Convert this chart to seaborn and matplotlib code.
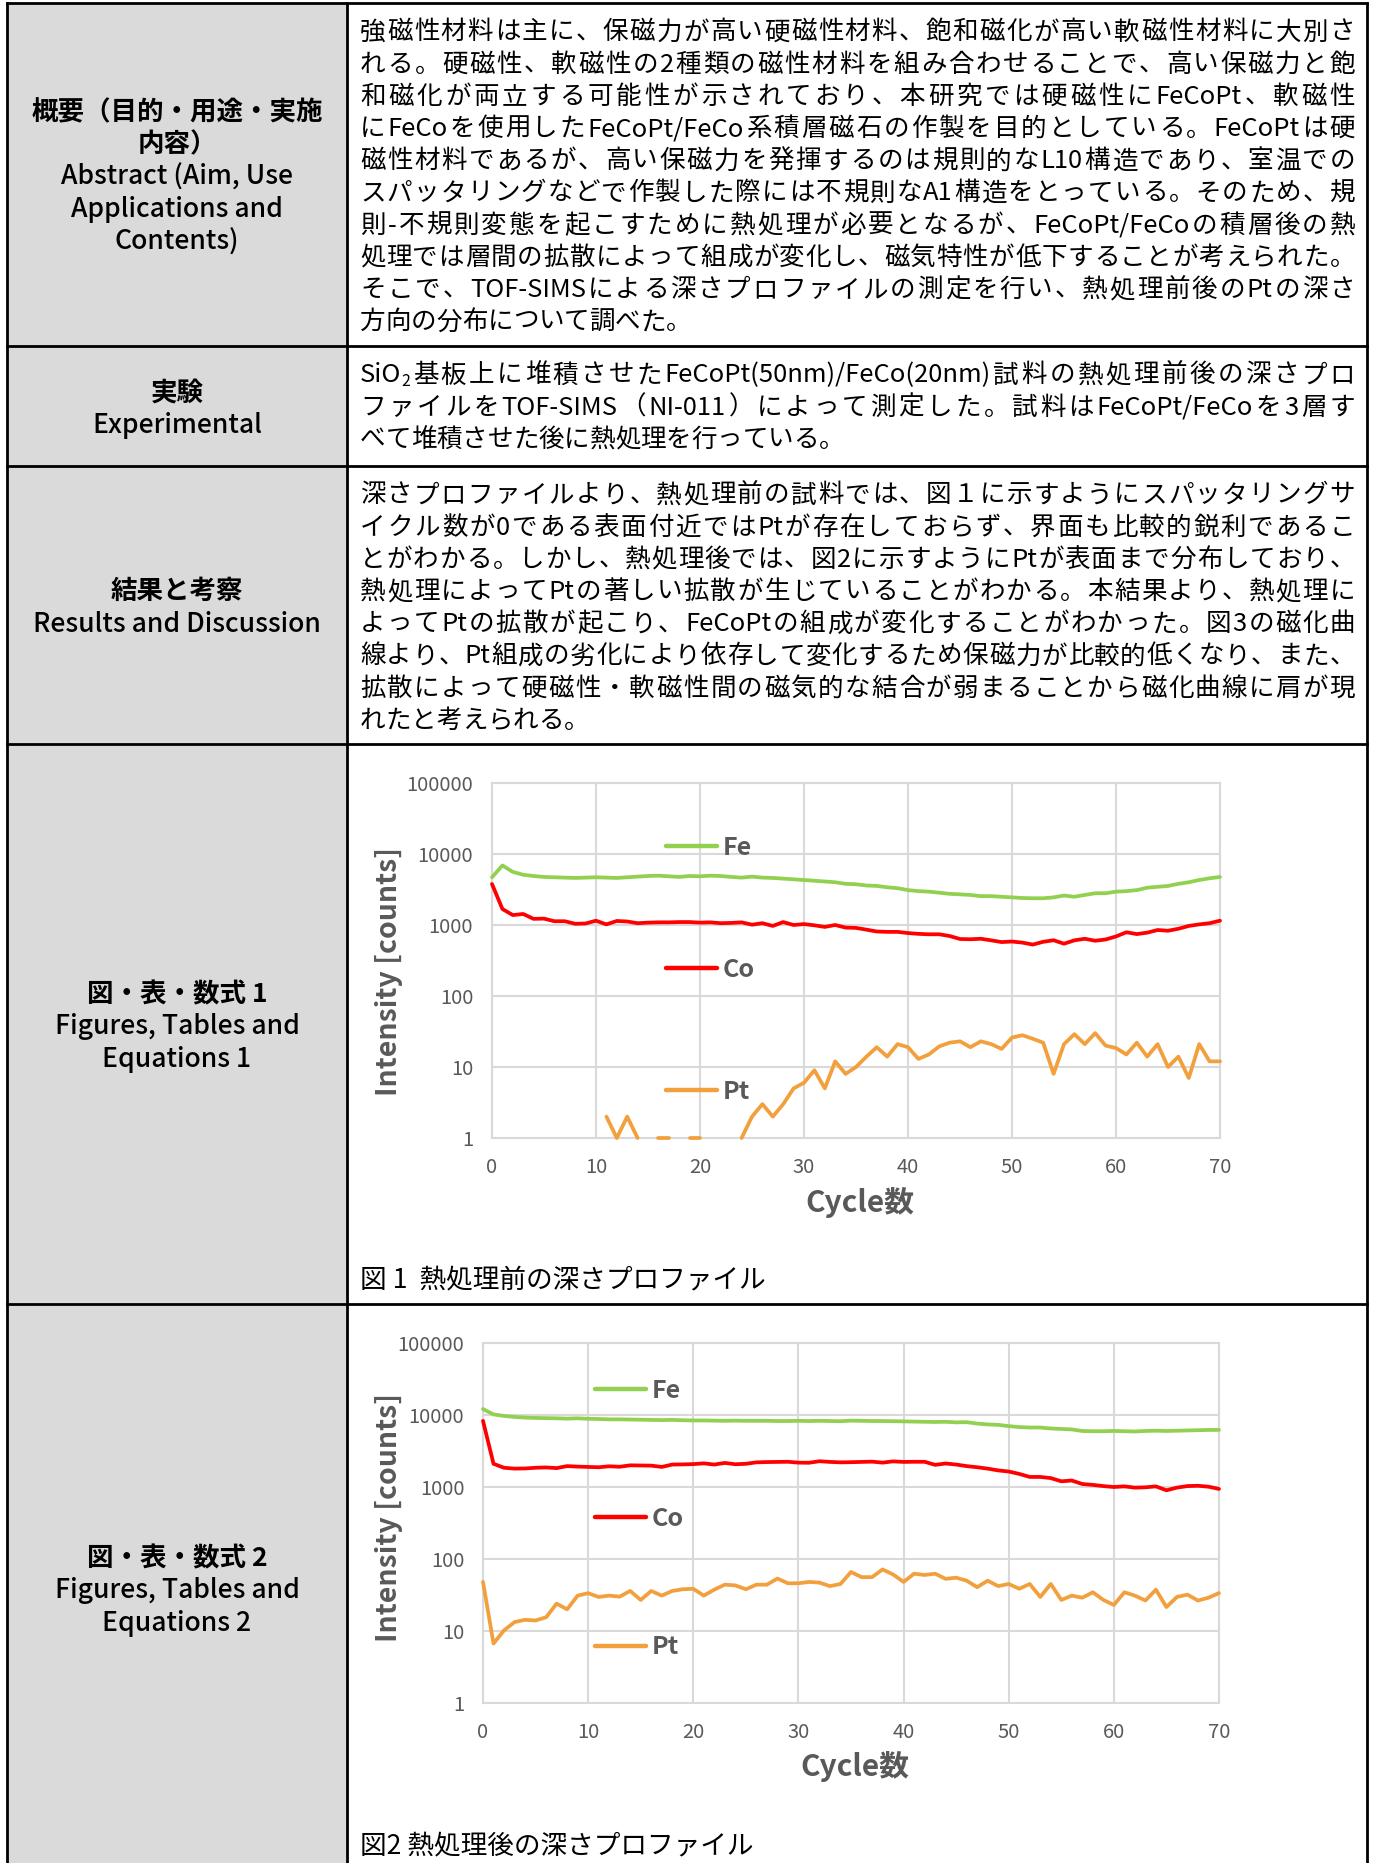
import re
import numpy as np
import pandas as pd
import matplotlib
matplotlib.use("Agg")
import matplotlib.pyplot as plt
import seaborn as sns
from matplotlib.font_manager import FontProperties
from matplotlib.lines import Line2D
from matplotlib.patches import Rectangle

# ---------------- data ----------------
cycles = list(range(71))

fe_before = [4700, 6900, 5600, 5100, 4900, 4750, 4700, 4650, 4600, 4650,
             4700, 4650, 4600, 4700, 4800, 4900, 4950, 4850, 4750, 4900,
             4850, 4950, 4900, 4750, 4650, 4800, 4650, 4600, 4500, 4400,
             4300, 4200, 4100, 4000, 3800, 3750, 3600, 3550, 3400, 3300,
             3100, 3000, 2950, 2850, 2750, 2700, 2650, 2550, 2550, 2500,
             2450, 2400, 2380, 2380, 2450, 2600, 2500, 2650, 2800, 2800,
             2950, 3000, 3100, 3350, 3450, 3550, 3800, 4000, 4300, 4550, 4750]
co_before = [3780, 1680, 1380, 1430, 1220, 1230, 1130, 1130, 1040, 1050,
             1150, 1020, 1140, 1120, 1060, 1080, 1090, 1090, 1100, 1100,
             1080, 1090, 1060, 1070, 1090, 1010, 1060, 970, 1100, 1000,
             1030, 990, 940, 1000, 920, 910, 860, 810, 800, 800,
             770, 750, 740, 740, 700, 635, 630, 640, 608, 575,
             585, 565, 530, 580, 610, 545, 608, 640, 600, 625,
             690, 790, 745, 780, 850, 830, 885, 970, 1020, 1060, 1150]
pt_before = [np.nan] * 11 + [2, 1, 2, 1, np.nan, 1, 1, np.nan, 1, 1,
             np.nan, np.nan, np.nan, 1, 2, 3, 2, 3, 5, 6,
             9, 5, 12, 8, 10, 14, 19, 14, 21, 19,
             13, 15, 19.5, 22, 23, 19, 23, 21, 18, 26,
             28, 25, 22, 8, 21, 29, 21, 30, 20, 18.5,
             15, 22, 14, 21, 10, 14, 7, 21, 12, 12]

fe_after = [12100, 10200, 9700, 9400, 9200, 9100, 9050, 9000, 8900, 9000,
            8850, 8800, 8700, 8700, 8650, 8600, 8550, 8500, 8550, 8450,
            8400, 8400, 8350, 8300, 8350, 8300, 8300, 8300, 8250, 8250,
            8300, 8250, 8300, 8250, 8200, 8350, 8300, 8250, 8250, 8200,
            8150, 8100, 8050, 8000, 8050, 7900, 7950, 7600, 7400, 7300,
            7000, 6800, 6700, 6700, 6500, 6400, 6300, 6000, 5950, 5950,
            6000, 5950, 5900, 6000, 6050, 6000, 6050, 6100, 6150, 6200, 6200]
co_after = [8300, 2100, 1850, 1800, 1810, 1850, 1870, 1830, 1950, 1920,
            1900, 1880, 1940, 1910, 2000, 1990, 1980, 1900, 2050, 2060,
            2080, 2130, 2050, 2160, 2070, 2100, 2200, 2220, 2230, 2240,
            2180, 2170, 2280, 2230, 2200, 2210, 2230, 2250, 2180, 2270,
            2230, 2240, 2240, 2030, 2120, 2050, 1950, 1880, 1800, 1700,
            1640, 1520, 1380, 1380, 1330, 1200, 1230, 1100, 1070, 1030,
            1000, 1020, 980, 990, 1020, 900, 980, 1030, 1040, 1010, 940]
pt_after = [48, 6.7, 10.2, 13.3, 14.3, 14, 15.5, 24, 20, 31,
            33.5, 29.7, 31, 30, 36, 27, 36, 31, 36, 38,
            38.6, 31, 37.6, 44, 43, 38, 44, 44, 53.5, 46,
            46, 48, 47, 42, 45, 66, 56, 56, 71.6, 61,
            48, 62.5, 60, 62.5, 53, 55, 50, 40.6, 50, 42,
            45, 38.6, 45, 29.7, 45, 27, 31, 29, 34.5, 27,
            23, 34.5, 31, 26.5, 37.5, 21.5, 29.7, 32, 26.5, 29, 33.6]

y_ticks = [1, 10, 100, 1000, 10000, 100000]
y_tick_labels = ["1", "10", "100", "1000", "10000", "100000"]
x_ticks = [0, 10, 20, 30, 40, 50, 60, 70]
x_tick_labels = ["0", "10", "20", "30", "40", "50", "60", "70"]
series_names = ["Fe", "Co", "Pt"]
series_colors = ["#92D050", "#FF0000", "#F2A03D"]
x_label = "Cycle数"
y_label = "Intensity [counts]"
captions = ["図 1  熱処理前の深さプロファイル", "図2 熱処理後の深さプロファイル"]

row_labels = [
    ["概要（目的・用途・実施", "内容）", "Abstract (Aim, Use", "Applications and", "Contents)"],
    ["実験", "Experimental"],
    ["結果と考察", "Results and Discussion"],
    ["図・表・数式 1", "Figures, Tables and", "Equations 1"],
    ["図・表・数式 2", "Figures, Tables and", "Equations 2"],
]

abstract_lines = [
    "強磁性材料は主に、保磁力が高い硬磁性材料、飽和磁化が高い軟磁性材料に大別さ",
    "れる。硬磁性、軟磁性の2種類の磁性材料を組み合わせることで、高い保磁力と飽",
    "和磁化が両立する可能性が示されており、本研究では硬磁性にFeCoPt、軟磁性",
    "にFeCoを使用したFeCoPt/FeCo系積層磁石の作製を目的としている。FeCoPtは硬",
    "磁性材料であるが、高い保磁力を発揮するのは規則的なL10構造であり、室温での",
    "スパッタリングなどで作製した際には不規則なA1構造をとっている。そのため、規",
    "則-不規則変態を起こすために熱処理が必要となるが、FeCoPt/FeCoの積層後の熱",
    "処理では層間の拡散によって組成が変化し、磁気特性が低下することが考えられた。",
    "そこで、TOF-SIMSによる深さプロファイルの測定を行い、熱処理前後のPtの深さ",
    "方向の分布について調べた。",
]
experimental_lines = [
    "SiO₂基板上に堆積させたFeCoPt(50nm)/FeCo(20nm)試料の熱処理前後の深さプロ",
    "ファイルをTOF-SIMS（NI-011）によって測定した。試料はFeCoPt/FeCoを3層す",
    "べて堆積させた後に熱処理を行っている。",
]
results_lines = [
    "深さプロファイルより、熱処理前の試料では、図１に示すようにスパッタリングサ",
    "イクル数が0である表面付近ではPtが存在しておらず、界面も比較的鋭利であるこ",
    "とがわかる。しかし、熱処理後では、図2に示すようにPtが表面まで分布しており、",
    "熱処理によってPtの著しい拡散が生じていることがわかる。本結果より、熱処理に",
    "よってPtの拡散が起こり、FeCoPtの組成が変化することがわかった。図3の磁化曲",
    "線より、Pt組成の劣化により依存して変化するため保磁力が比較的低くなり、また、",
    "拡散によって硬磁性・軟磁性間の磁気的な結合が弱まることから磁化曲線に肩が現",
    "れたと考えられる。",
]

# ---------------- layout ----------------
sns.set_theme(style="white")
FAM = ["Noto Sans CJK JP", "DejaVu Sans"]
plt.rcParams["font.family"] = FAM

W, H, DPI = 1373, 1863, 100
fig = plt.figure(figsize=(W / DPI, H / DPI), dpi=DPI)
fig.patch.set_facecolor("white")
bg = fig.add_axes([0, 0, 1, 1], zorder=0)
bg.set_xlim(0, W)
bg.set_ylim(H, 0)
bg.axis("off")

X_L, X_M, X_R = 7, 347, 1367
ROWS = [3, 346, 466, 744, 1304, 1872]
LINE_C = "black"
LW_T = 2.0

bg.add_patch(Rectangle((X_L, ROWS[0]), X_M - X_L, H + 20 - ROWS[0],
                       facecolor="#dadada", edgecolor="none", zorder=0))
for yy in ROWS[:-1]:
    bg.plot([X_L, X_R], [yy, yy], color=LINE_C, lw=LW_T, solid_capstyle="projecting", zorder=2)
for xx in (X_L, X_M, X_R):
    bg.plot([xx, xx], [ROWS[0], H + 10], color=LINE_C, lw=LW_T, zorder=2)

BODY_FS = 18.4
LABEL_FS = 19.1
CAPTION_FS = 19.2
LINE_STEP = 32.2
em_px = BODY_FS * DPI / 72.0

# left column labels
for i, lines in enumerate(row_labels):
    cy = (ROWS[i] + ROWS[i + 1]) / 2 + 3
    n = len(lines)
    for j, s in enumerate(lines):
        yy = cy + (j - (n - 1) / 2) * LINE_STEP
        is_ascii = all(ord(c) < 128 for c in s)
        bg.text((X_L + X_M) / 2, yy, s, ha="center", va="center",
                fontsize=LABEL_FS, family=FAM,
                fontweight="medium" if is_ascii else "bold", color="black", zorder=3)

renderer = fig.canvas.get_renderer()
body_fp = FontProperties(family=FAM, size=BODY_FS)
sub_fp = FontProperties(family=FAM, size=BODY_FS * 0.62)
cap_fp = FontProperties(family=FAM, size=CAPTION_FS)


def units_of(line):
    return re.findall(r"[A-Za-z0-9()/\-.,₂]+|.", line)


def pieces_of(u):
    if "₂" in u:
        a, b = u.split("₂", 1)
        res = []
        if a:
            res.append((a, False))
        res.append(("2", True))
        if b:
            res.append((b, False))
        return res
    return [(u, False)]


def piece_w(t, sub):
    w, h, d = renderer.get_text_width_height_descent(t, sub_fp if sub else body_fp, ismath=False)
    return w


def draw_para(lines, y_first, x0=360, x1=1355):
    for k, line in enumerate(lines):
        base = y_first + k * LINE_STEP + 0.37 * em_px
        units = units_of(line)
        widths = [sum(piece_w(t, s) for t, s in pieces_of(u)) for u in units]
        last = (k == len(lines) - 1)
        gap = 0.0 if last or len(units) < 2 else (x1 - x0 - sum(widths)) / (len(units) - 1)
        x = x0
        for u, w in zip(units, widths):
            px = x
            for t, s in pieces_of(u):
                if s:
                    bg.text(px, base + 0.12 * em_px, t, fontproperties=sub_fp,
                            ha="left", va="baseline", color="black", zorder=3)
                else:
                    bg.text(px, base, t, fontproperties=body_fp,
                            ha="left", va="baseline", color="black", zorder=3)
                px += piece_w(t, s)
            x += w + gap


draw_para(abstract_lines, 30)
draw_para(experimental_lines, 373)
draw_para(results_lines, 493)

bg.text(360, 1278 + 0.37 * em_px, captions[0], fontproperties=cap_fp,
        ha="left", va="baseline", color="black", zorder=3)
bg.text(360, 1844 + 0.37 * em_px, captions[1], fontproperties=cap_fp,
        ha="left", va="baseline", color="black", zorder=3)

# ---------------- charts ----------------
GRAY_TXT = "#595959"
GRID_C = "#d9d9d9"


def make_chart(rect_px, fe, co, pt, ylab_xy, xlab_xy, leg_anchor, leg_spacing):
    l, t, r, b = rect_px
    ax = fig.add_axes([l / W, 1 - b / H, (r - l) / W, (b - t) / H], zorder=2)
    ax.set_facecolor("white")
    ax.set_yscale("log")
    df = pd.DataFrame({"cycle": cycles, "Fe": fe, "Co": co, "Pt": pt})
    sns.lineplot(data=df, x="cycle", y="Fe", color=series_colors[0], lw=2.7,
                 estimator=None, ax=ax, legend=False)
    sns.lineplot(data=df, x="cycle", y="Co", color=series_colors[1], lw=2.7,
                 estimator=None, ax=ax, legend=False)
    df["seg"] = df["Pt"].isna().cumsum()
    dpt = df.dropna(subset=["Pt"])
    sns.lineplot(data=dpt, x="cycle", y="Pt", units="seg", estimator=None,
                 color=series_colors[2], lw=2.7, ax=ax, legend=False)
    for ln in ax.lines:
        ln.set_clip_on(False)
        ln.set_solid_joinstyle("round")
        ln.set_zorder(3)
    ax.set_xlim(0, 70)
    ax.set_ylim(1, 100000)
    ax.set_xticks(x_ticks)
    ax.set_xticklabels(x_tick_labels)
    ax.set_yticks(y_ticks)
    ax.set_yticklabels(y_tick_labels)
    ax.minorticks_off()
    ax.tick_params(axis="y", length=0, pad=13.5, labelsize=14.5, labelcolor=GRAY_TXT)
    ax.tick_params(axis="x", length=0, pad=13.5, labelsize=14.5, labelcolor=GRAY_TXT)
    ax.grid(True, which="major", color=GRID_C, lw=1.5)
    ax.set_axisbelow(True)
    for sp in ax.spines.values():
        sp.set_visible(True)
        sp.set_color(GRID_C)
        sp.set_linewidth(1.5)
    ax.set_xlabel(x_label, fontsize=21.5, fontweight="bold", color=GRAY_TXT, family=FAM)
    ax.set_ylabel(y_label, fontsize=20.5, fontweight="bold", color=GRAY_TXT, family=FAM)
    ax.xaxis.set_label_coords(*xlab_xy)
    ax.yaxis.set_label_coords(*ylab_xy)
    ax.xaxis.label.set_va("center")
    ax.yaxis.label.set_va("center")
    handles = [Line2D([], [], color=c, lw=3.2) for c in series_colors]
    leg = ax.legend(handles, series_names, loc="upper left", bbox_to_anchor=leg_anchor,
                    frameon=False, borderpad=0, borderaxespad=0, handlelength=2.05,
                    handletextpad=0.22, labelspacing=leg_spacing,
                    prop=FontProperties(family=FAM, weight="bold", size=18))
    for txt in leg.get_texts():
        txt.set_color(GRAY_TXT)
    return ax


# chart 1 (before)
l1, t1, r1, b1 = 492, 783, 1220, 1138
make_chart((l1, t1, r1, b1), fe_before, co_before, pt_before,
           ylab_xy=((389 - l1) / (r1 - l1), (b1 - 971) / (b1 - t1)),
           xlab_xy=((860 - l1) / (r1 - l1), (b1 - 1203) / (b1 - t1)),
           leg_anchor=((666 - l1) / (r1 - l1), (b1 - 835.5) / (b1 - t1)),
           leg_spacing=3.93)
# chart 2 (after)
l2, t2, r2, b2 = 483, 1343, 1219, 1703
make_chart((l2, t2, r2, b2), fe_after, co_after, pt_after,
           ylab_xy=((389 - l2) / (r2 - l2), (b2 - 1517) / (b2 - t2)),
           xlab_xy=((855 - l2) / (r2 - l2), (b2 - 1767) / (b2 - t2)),
           leg_anchor=((595 - l2) / (r2 - l2), (b2 - 1378.5) / (b2 - t2)),
           leg_spacing=4.18)

fig.savefig("out.png", dpi=DPI, facecolor="white")
